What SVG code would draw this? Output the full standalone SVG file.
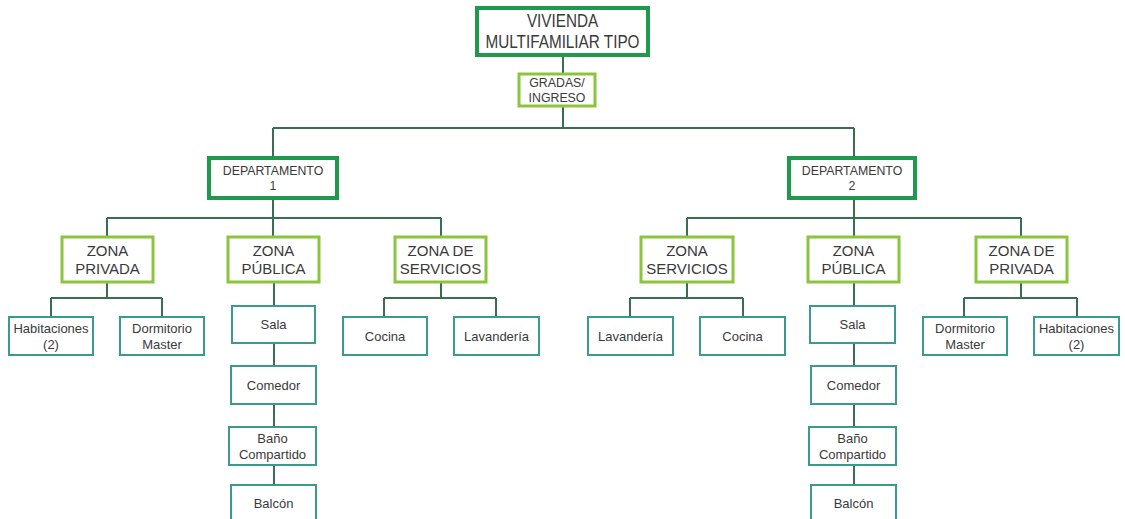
<svg xmlns="http://www.w3.org/2000/svg" width="1125" height="519" viewBox="0 0 1125 519">
  <style>
    .bg { fill: #ffffff; }
    .main { fill: #ffffff; stroke: #1f9a4c; stroke-width: 4; }
    .zone { fill: #ffffff; stroke: #8cc43f; stroke-width: 3; }
    .leaf { fill: #ffffff; stroke: #3b9b8b; stroke-width: 2; }
    .wire { fill: none; stroke: #3a6e52; stroke-width: 2; }
    text { font-family: "Liberation Sans", Arial, sans-serif; fill: #3a3a3a; text-anchor: middle;
           transform-box: fill-box; transform-origin: center; }
    .t1 { font-size: 18px; transform: scaleX(0.85); }
    .t2 { font-size: 13px; transform: scaleX(0.95); }
    .t3 { font-size: 15px; }
    .t4 { font-size: 13px; }
  </style>
  <rect class="bg" x="0" y="0" width="1125" height="519"/>

  <g id="connectors">
    <path class="wire" d="M563 55V74M563 106V128M273 128H854M273 128V158M854 128V158"/>
    <path class="wire" d="M273 198V237M107 218H441M107 218V237M441 218V237"/>
    <path class="wire" d="M854 198V237M687 218H1021M687 218V237M1021 218V237"/>
    <path class="wire" d="M107 282V298M51 298H162M51 298V317M162 298V317"/>
    <path class="wire" d="M274 282V306M274 343V366M274 404V427M274 465V485"/>
    <path class="wire" d="M441 282V298M384 298H496M384 298V317M496 298V317"/>
    <path class="wire" d="M687 282V298M630 298H743M630 298V317M743 298V317"/>
    <path class="wire" d="M854 282V306M854 343V366M854 404V427M854 465V485"/>
    <path class="wire" d="M1021 282V298M964 298H1077M964 298V317M1077 298V317"/>
  </g>

  <g id="vivienda">
    <rect class="main" x="477" y="8" width="171" height="47"/>
    <text class="t1" x="562.5" y="27.5">VIVIENDA</text>
    <text class="t1" x="562.5" y="48.5">MULTIFAMILIAR TIPO</text>
  </g>
  <g id="gradas">
    <rect class="zone" x="519" y="74" width="76" height="32"/>
    <text class="t2" x="557" y="87">GRADAS/</text>
    <text class="t2" x="557" y="102">INGRESO</text>
  </g>

  <g id="departamento-1">
    <rect class="main" x="209" y="158" width="128" height="40"/>
    <text class="t2" x="273" y="175">DEPARTAMENTO</text>
    <text class="t2" x="273" y="190">1</text>
  </g>
  <g id="departamento-2">
    <rect class="main" x="789" y="158" width="126" height="40"/>
    <text class="t2" x="852" y="175">DEPARTAMENTO</text>
    <text class="t2" x="852" y="190">2</text>
  </g>

  <g id="zona-privada-1">
    <rect class="zone" x="62" y="237" width="91" height="45"/>
    <text class="t3" x="107.5" y="256.4">ZONA</text>
    <text class="t3" x="107.5" y="273.7">PRIVADA</text>
  </g>
  <g id="zona-publica-1">
    <rect class="zone" x="228" y="237" width="91" height="45"/>
    <text class="t3" x="273.5" y="256.4">ZONA</text>
    <text class="t3" x="273.5" y="273.7">PÚBLICA</text>
  </g>
  <g id="zona-servicios-1">
    <rect class="zone" x="395" y="237" width="91" height="45"/>
    <text class="t3" x="440.5" y="256.4">ZONA DE</text>
    <text class="t3" x="440.5" y="273.7">SERVICIOS</text>
  </g>
  <g id="zona-servicios-2">
    <rect class="zone" x="641" y="237" width="92" height="45"/>
    <text class="t3" x="687" y="256.4">ZONA</text>
    <text class="t3" x="687" y="273.7">SERVICIOS</text>
  </g>
  <g id="zona-publica-2">
    <rect class="zone" x="808" y="237" width="91" height="45"/>
    <text class="t3" x="853.5" y="256.4">ZONA</text>
    <text class="t3" x="853.5" y="273.7">PÚBLICA</text>
  </g>
  <g id="zona-privada-2">
    <rect class="zone" x="976" y="237" width="91" height="45"/>
    <text class="t3" x="1021.5" y="256.4">ZONA DE</text>
    <text class="t3" x="1021.5" y="273.7">PRIVADA</text>
  </g>

  <g id="habitaciones-1">
    <rect class="leaf" x="9" y="317" width="84" height="38"/>
    <text class="t4" x="51" y="332.5">Habitaciones</text>
    <text class="t4" x="51" y="348.5">(2)</text>
  </g>
  <g id="dormitorio-1">
    <rect class="leaf" x="120" y="317" width="84" height="38"/>
    <text class="t4" x="162" y="332.5">Dormitorio</text>
    <text class="t4" x="162" y="348.5">Master</text>
  </g>
  <g id="sala-1">
    <rect class="leaf" x="232" y="306" width="83" height="37"/>
    <text class="t4" x="273.5" y="328.5">Sala</text>
  </g>
  <g id="comedor-1">
    <rect class="leaf" x="231" y="366" width="85" height="38"/>
    <text class="t4" x="273.5" y="389.5">Comedor</text>
  </g>
  <g id="bano-1">
    <rect class="leaf" x="229" y="427" width="87" height="38"/>
    <text class="t4" x="272.5" y="442.5">Baño</text>
    <text class="t4" x="272.5" y="458.5">Compartido</text>
  </g>
  <g id="balcon-1">
    <rect class="leaf" x="231" y="485" width="85" height="40"/>
    <text class="t4" x="273.5" y="507.5">Balcón</text>
  </g>
  <g id="cocina-1">
    <rect class="leaf" x="343" y="317" width="84" height="38"/>
    <text class="t4" x="385" y="340.5">Cocina</text>
  </g>
  <g id="lavanderia-1">
    <rect class="leaf" x="454" y="317" width="85" height="38"/>
    <text class="t4" x="496.5" y="340.5">Lavandería</text>
  </g>

  <g id="lavanderia-2">
    <rect class="leaf" x="588" y="317" width="85" height="38"/>
    <text class="t4" x="630.5" y="340.5">Lavandería</text>
  </g>
  <g id="cocina-2">
    <rect class="leaf" x="700" y="317" width="85" height="38"/>
    <text class="t4" x="742.5" y="340.5">Cocina</text>
  </g>
  <g id="sala-2">
    <rect class="leaf" x="810" y="306" width="85" height="37"/>
    <text class="t4" x="852.5" y="328.5">Sala</text>
  </g>
  <g id="comedor-2">
    <rect class="leaf" x="811" y="366" width="85" height="38"/>
    <text class="t4" x="853.5" y="389.5">Comedor</text>
  </g>
  <g id="bano-2">
    <rect class="leaf" x="809" y="427" width="87" height="38"/>
    <text class="t4" x="852.5" y="442.5">Baño</text>
    <text class="t4" x="852.5" y="458.5">Compartido</text>
  </g>
  <g id="balcon-2">
    <rect class="leaf" x="811" y="485" width="85" height="40"/>
    <text class="t4" x="853.5" y="507.5">Balcón</text>
  </g>
  <g id="dormitorio-2">
    <rect class="leaf" x="923" y="317" width="84" height="38"/>
    <text class="t4" x="965" y="332.5">Dormitorio</text>
    <text class="t4" x="965" y="348.5">Master</text>
  </g>
  <g id="habitaciones-2">
    <rect class="leaf" x="1034" y="317" width="85" height="38"/>
    <text class="t4" x="1076.5" y="332.5">Habitaciones</text>
    <text class="t4" x="1076.5" y="348.5">(2)</text>
  </g>
</svg>
